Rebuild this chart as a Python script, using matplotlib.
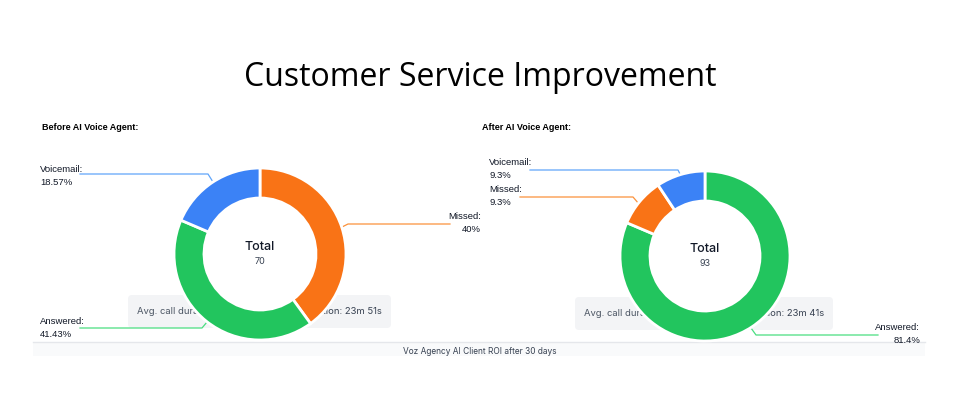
import matplotlib.pyplot as plt
from matplotlib.patches import FancyBboxPatch, Rectangle, Circle

W, H = 960, 396

# ---- data ----
before_labels = ["Missed", "Answered", "Voicemail"]
before_pct = [40, 41.43, 18.57]
before_total = 70
before_duration = "23m 51s"

after_labels = ["Answered", "Missed", "Voicemail"]
after_pct = [81.4, 9.3, 9.3]
after_total = 93
after_duration = "23m 41s"

colors = {"Missed": "#F97316", "Answered": "#22C55E", "Voicemail": "#3B82F6"}
line_colors = {"Missed": "#FB923C", "Answered": "#4ADE80", "Voicemail": "#60A5FA"}

TXT = "#111827"
FONT = ["Inter", "DejaVu Sans"]
LBL_FONT = ["Liberation Sans", "DejaVu Sans"]


def py(y):
    # pixel-from-top -> data y
    return H - y


fig = plt.figure(figsize=(W / 100, H / 100), dpi=100)
ax = fig.add_axes([0, 0, 1, 1])


def fmt(v):
    return f"{v:g}%"


def panel(cx, cy, r, labels, pct, total, duration, box, title_xy, title, leaders):
    # grey info box behind the donut
    bx0, by0, bx1, by1 = box
    ax.add_patch(FancyBboxPatch((bx0, py(by1)), bx1 - bx0, by1 - by0,
                                boxstyle="round,pad=0,rounding_size=4",
                                fc="#F3F4F6", ec="none", zorder=1))
    ax.text(bx0 + 9, py((by0 + by1) / 2), "Avg. call duration: 20s",
            fontsize=6.8, color="#4B5563", family=FONT, va="center", zorder=2)
    ax.text(bx1 - 9, py((by0 + by1) / 2), "Total call duration: " + duration,
            fontsize=6.8, color="#374151", family=FONT, va="center", ha="right", zorder=2)

    wedges, _ = ax.pie(pct, colors=[colors[l] for l in labels], startangle=90,
                       counterclock=False, center=(cx, py(cy)), radius=r,
                       wedgeprops=dict(width=30, edgecolor="white", linewidth=2),
                       frame=True)
    for w in wedges:
        w.set_zorder(3)
    ax.add_patch(Circle((cx, py(cy)), r - 30, fc="white", ec="none", zorder=3))

    ax.text(cx, py(cy - 7), "Total", fontsize=9, fontweight="medium", color=TXT,
            family=FONT, ha="center", va="center", zorder=4)
    ax.text(cx, py(cy + 7), str(total), fontsize=6.5, color="#374151",
            family=FONT, ha="center", va="center", zorder=4)

    ax.text(title_xy[0], py(title_xy[1]), title, fontsize=6.5, fontweight="bold",
            color="black", family=LBL_FONT, va="center")

    # labels with leader lines
    for name, (tx, ty, ha, pts) in leaders.items():
        v = pct[labels.index(name)]
        ax.text(tx, py(ty), f"{name}:\n{fmt(v)}", fontsize=6.8, color=TXT,
                family=LBL_FONT, ha=ha, va="center", linespacing=1.6, zorder=4)
        ax.plot([p[0] for p in pts], [py(p[1]) for p in pts],
                color=line_colors[name], lw=0.9, zorder=2)


panel(260, 254, 86, before_labels, before_pct, before_total, before_duration,
      (128, 295, 391, 328), (42, 127), "Before AI Voice Agent:",
      {"Voicemail": (40, 176, "left", [(80, 174), (208, 174), (213, 182)]),
       "Missed": (481, 223, "right", [(450, 224), (348, 224), (342, 227)]),
       "Answered": (40, 328, "left", [(80, 328), (202, 328), (207, 322)])})

panel(705, 256, 85, after_labels, after_pct, after_total, after_duration,
      (575, 297, 833, 330), (482, 127), "After AI Voice Agent:",
      {"Voicemail": (489, 169, "left", [(530, 170), (678, 170), (681, 176)]),
       "Missed": (489, 196, "left", [(520, 197), (633, 197), (639, 204)]),
       "Answered": (920, 334, "right", [(878, 335), (756, 335), (751, 328)])})

# footer band
ax.add_patch(Rectangle((33, py(356)), 892, 14, fc="#F9FAFB", ec="none", zorder=0))
ax.plot([33, 925], [py(342), py(342)], color="#E5E7EB", lw=1, zorder=0)
ax.text(480, py(351), "Voz Agency AI Client ROI after 30 days", fontsize=6,
        color="#374151", family=FONT, ha="center", va="center")

ax.text(480, py(78), "Customer Service Improvement", fontsize=23,
        color="black", family=["Open Sans", "DejaVu Sans"], ha="center", va="center")

ax.set_xlim(0, W)
ax.set_ylim(0, H)
ax.axis("off")

fig.savefig("out.png", dpi=100)
